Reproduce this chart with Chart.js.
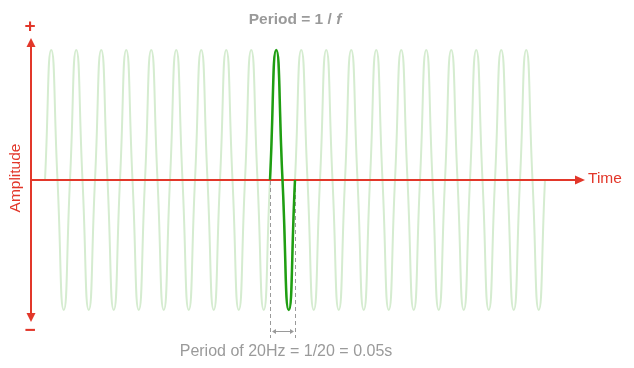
<!DOCTYPE html>
<html>
<head>
<meta charset="utf-8">
<script src="https://cdn.jsdelivr.net/npm/chart.js@4/dist/chart.umd.min.js"></script>
<style>
  html, body { margin: 0; padding: 0; background: #ffffff; }
  #wrap { width: 634px; height: 368px; position: relative; }
</style>
</head>
<body>
<div id="wrap"><canvas id="c" width="634" height="368"></canvas></div>
<script>
// ---- data (time in ms, amplitude normalised) ----
const timesMs = [0,12.5,25,37.5,50,62.5,75,87.5,100,112.5,125,137.5,150,162.5,175,187.5,200,212.5,225,237.5,250,262.5,275,287.5,300,312.5,325,337.5,350,362.5,375,387.5,400,412.5,425,437.5,450,462.5,475,487.5,500,512.5,525,537.5,550,562.5,575,587.5,600,612.5,625,637.5,650,662.5,675,687.5,700,712.5,725,737.5,750,762.5,775,787.5,800,812.5,825,837.5,850,862.5,875,887.5,900,912.5,925,937.5,950,962.5,975,987.5,1000];
const amplitude = [0,1,0,-1, 0,1,0,-1, 0,1,0,-1, 0,1,0,-1, 0,1,0,-1,
                   0,1,0,-1, 0,1,0,-1, 0,1,0,-1, 0,1,0,-1, 0,1,0,-1,
                   0,1,0,-1, 0,1,0,-1, 0,1,0,-1, 0,1,0,-1, 0,1,0,-1,
                   0,1,0,-1, 0,1,0,-1, 0,1,0,-1, 0,1,0,-1, 0,1,0,-1, 0];
const highlightTimesMs = [450,462.5,475,487.5,500];
const highlightAmplitude = [0,1,0,-1,0];
const periodMarkersMs = [450,500];
const xRangeMs = [-28,1080];
const yRange = [-1.092,1.092];

const titleMain = 'Period = 1 / ';
const titleItalic = 'f';
const xAxisLabel = 'Time';
const yAxisLabel = 'Amplitude';
const plusLabel = '+';
const minusLabel = '\u2212';
const periodNote = 'Period of 20Hz = 1/20 = 0.05s';

const RED = '#e2372a';
const GRAY = '#9a9a9a';
const FONT = '"Liberation Sans", Arial, Helvetica, sans-serif';

function toPts(xs, ys) { return xs.map((x, i) => ({ x: x, y: ys[i] })); }

function arrowHead(ctx, tipX, tipY, dir, len, half) {
  ctx.beginPath();
  if (dir === 'up') { ctx.moveTo(tipX, tipY); ctx.lineTo(tipX - half, tipY + len); ctx.lineTo(tipX + half, tipY + len); }
  if (dir === 'down') { ctx.moveTo(tipX, tipY); ctx.lineTo(tipX - half, tipY - len); ctx.lineTo(tipX + half, tipY - len); }
  if (dir === 'right') { ctx.moveTo(tipX, tipY); ctx.lineTo(tipX - len, tipY - half); ctx.lineTo(tipX - len, tipY + half); }
  ctx.closePath();
  ctx.fill();
}

const decor = {
  id: 'decor',
  afterDatasetDraw(chart, args) {
    if (args.index !== 1) return;
    const ctx = chart.ctx;
    const xs = chart.scales.x, ys = chart.scales.y;
    const x0 = xs.getPixelForValue(xRangeMs[0]);
    const x1 = xs.getPixelForValue(xRangeMs[1]);
    const yTop = ys.getPixelForValue(yRange[1]);
    const yBot = ys.getPixelForValue(yRange[0]);
    const yZero = ys.getPixelForValue(0);
    ctx.save();
    // dashed period markers
    ctx.strokeStyle = GRAY;
    ctx.lineWidth = 1;
    ctx.setLineDash([4, 3]);
    periodMarkersMs.forEach(t => {
      const px = Math.round(xs.getPixelForValue(t)) + 0.5;
      ctx.beginPath();
      ctx.moveTo(px, yZero + 1);
      ctx.lineTo(px, yBot + 16);
      ctx.stroke();
    });
    ctx.setLineDash([]);
    // double arrow
    const pa = Math.round(xs.getPixelForValue(periodMarkersMs[0])) + 2;
    const pb = Math.round(xs.getPixelForValue(periodMarkersMs[1])) - 1;
    const ay = yBot + 9.5;
    ctx.beginPath(); ctx.moveTo(pa + 2, ay); ctx.lineTo(pb - 2, ay); ctx.stroke();
    ctx.fillStyle = GRAY;
    ctx.beginPath(); ctx.moveTo(pa, ay); ctx.lineTo(pa + 4, ay - 2.5); ctx.lineTo(pa + 4, ay + 2.5); ctx.closePath(); ctx.fill();
    ctx.beginPath(); ctx.moveTo(pb, ay); ctx.lineTo(pb - 4, ay - 2.5); ctx.lineTo(pb - 4, ay + 2.5); ctx.closePath(); ctx.fill();
    // red axes
    ctx.strokeStyle = RED;
    ctx.fillStyle = RED;
    ctx.lineWidth = 2;
    ctx.beginPath();
    ctx.moveTo(x0, yTop + 6); ctx.lineTo(x0, yBot - 6);
    ctx.stroke();
    ctx.beginPath();
    ctx.moveTo(x0, yZero); ctx.lineTo(x1 - 6, yZero);
    ctx.stroke();
    arrowHead(ctx, x0, yTop, 'up', 9, 4.5);
    arrowHead(ctx, x0, yBot, 'down', 9, 4.5);
    arrowHead(ctx, x1, yZero, 'right', 10, 4.5);
    ctx.restore();
  },
  afterDraw(chart) {
    const ctx = chart.ctx;
    const xs = chart.scales.x, ys = chart.scales.y;
    const x0 = xs.getPixelForValue(xRangeMs[0]);
    const x1 = xs.getPixelForValue(xRangeMs[1]);
    const yTop = ys.getPixelForValue(yRange[1]);
    const yBot = ys.getPixelForValue(yRange[0]);
    const yZero = ys.getPixelForValue(0);
    ctx.save();
    ctx.textBaseline = 'middle';
    // title with italic f
    ctx.fillStyle = GRAY;
    ctx.font = 'bold 15.5px ' + FONT;
    const wMain = ctx.measureText(titleMain).width;
    ctx.font = 'italic bold 15.5px ' + FONT;
    const wIt = ctx.measureText(titleItalic).width;
    const tx = 295 - (wMain + wIt) / 2;
    ctx.textAlign = 'left';
    ctx.font = 'bold 15.5px ' + FONT;
    ctx.fillText(titleMain, tx, 20);
    ctx.font = 'italic bold 15.5px ' + FONT;
    ctx.fillText(titleItalic, tx + wMain, 20);
    // period note
    ctx.font = '16px ' + FONT;
    ctx.textAlign = 'center';
    ctx.fillText(periodNote, 286, yBot + 30);
    // red labels
    ctx.fillStyle = RED;
    ctx.font = '15.5px ' + FONT;
    ctx.textAlign = 'left';
    ctx.fillText(xAxisLabel, x1 + 3, yZero - 1);
    ctx.save();
    ctx.translate(16, yZero - 2);
    ctx.rotate(-Math.PI / 2);
    ctx.textAlign = 'center';
    ctx.fillText(yAxisLabel, 0, 0);
    ctx.restore();
    ctx.font = 'bold 19px ' + FONT;
    ctx.textAlign = 'center';
    ctx.fillText(plusLabel, x0 - 1, yTop - 11);
    ctx.fillText(minusLabel, x0 - 1, yBot + 9);
    ctx.restore();
  }
};

new Chart(document.getElementById('c'), {
  type: 'line',
  data: {
    datasets: [
      {
        data: toPts(highlightTimesMs, highlightAmplitude),
        borderColor: '#1f9e12',
        borderWidth: 2.5,
        pointRadius: 0,
        tension: 0.6,
        fill: false,
        clip: false
      },
      {
        data: toPts(timesMs, amplitude),
        borderColor: '#d5ecd0',
        borderWidth: 2,
        pointRadius: 0,
        tension: 0.6,
        fill: false,
        clip: false
      }
    ]
  },
  options: {
    responsive: false,
    animation: false,
    events: [],
    layout: { padding: { left: 31, right: 49, top: 38, bottom: 46 } },
    plugins: { legend: { display: false }, tooltip: { enabled: false }, title: { display: false } },
    scales: {
      x: { type: 'linear', min: xRangeMs[0], max: xRangeMs[1], display: false },
      y: { type: 'linear', min: yRange[0], max: yRange[1], display: false }
    }
  },
  plugins: [decor]
});
</script>
</body>
</html>
